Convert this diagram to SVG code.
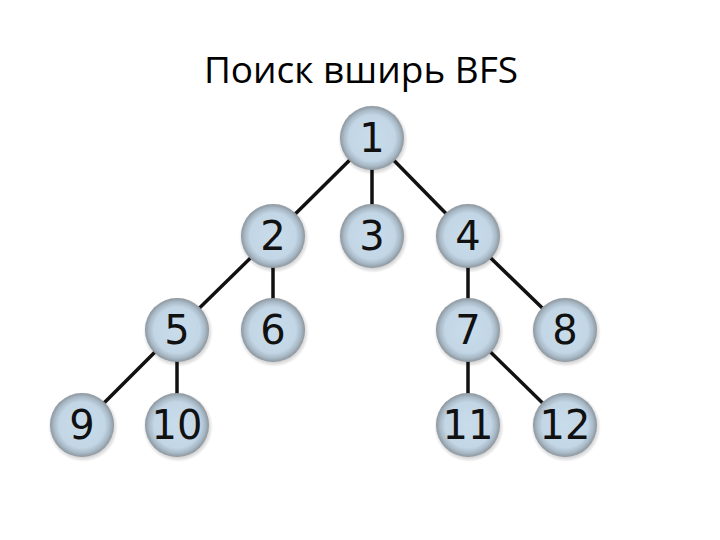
<svg xmlns="http://www.w3.org/2000/svg" width="720" height="540" viewBox="0 0 720 540">
<defs>
<radialGradient id="g" cx="50%" cy="50%" r="50%">
<stop offset="0" stop-color="#c9dcea"/>
<stop offset="0.72" stop-color="#c2d6e6"/>
<stop offset="0.88" stop-color="#a9b9c6"/>
<stop offset="1" stop-color="#8c969e"/>
</radialGradient>
<radialGradient id="sh" cx="50%" cy="50%" r="50%">
<stop offset="0.8" stop-color="#000" stop-opacity="0.25"/>
<stop offset="1" stop-color="#000" stop-opacity="0"/>
</radialGradient>
</defs>
<style>
.e{stroke:#111;stroke-width:3.5;fill:none}
.n circle.c{fill:url(#g)}
.n circle.s{fill:url(#sh)}
.n text{font-family:"DejaVu Sans",sans-serif;font-size:40px;fill:#111;text-anchor:middle}
.t{font-family:"Open Sans","Noto Sans",sans-serif;font-size:37px;fill:#000;text-anchor:middle}
</style>
<rect width="720" height="540" fill="#fff"/>
<text class="t" x="361" y="83">Поиск вширь BFS</text>
<g id="edges">
<line class="e" x1="372" y1="138" x2="273" y2="236"/>
<line class="e" x1="372" y1="138" x2="372" y2="236"/>
<line class="e" x1="372" y1="138" x2="468" y2="236"/>
<line class="e" x1="273" y1="236" x2="177" y2="330"/>
<line class="e" x1="273" y1="236" x2="273" y2="330"/>
<line class="e" x1="468" y1="236" x2="468" y2="330"/>
<line class="e" x1="468" y1="236" x2="565" y2="330"/>
<line class="e" x1="177" y1="330" x2="82" y2="425"/>
<line class="e" x1="177" y1="330" x2="177" y2="425"/>
<line class="e" x1="468" y1="330" x2="468" y2="425"/>
<line class="e" x1="468" y1="330" x2="565" y2="425"/>
</g>
<g id="n1" class="n"><circle class="s" cx="373" cy="140" r="35"/><circle class="c" cx="372" cy="138" r="32"/><text x="372" y="152">1</text></g>
<g id="n2" class="n"><circle class="s" cx="274" cy="238" r="35"/><circle class="c" cx="273" cy="236" r="32"/><text x="273" y="250">2</text></g>
<g id="n3" class="n"><circle class="s" cx="373" cy="238" r="35"/><circle class="c" cx="372" cy="236" r="32"/><text x="372" y="250">3</text></g>
<g id="n4" class="n"><circle class="s" cx="469" cy="238" r="35"/><circle class="c" cx="468" cy="236" r="32"/><text x="468" y="250">4</text></g>
<g id="n5" class="n"><circle class="s" cx="178" cy="332" r="35"/><circle class="c" cx="177" cy="330" r="32"/><text x="177" y="344">5</text></g>
<g id="n6" class="n"><circle class="s" cx="274" cy="332" r="35"/><circle class="c" cx="273" cy="330" r="32"/><text x="273" y="344">6</text></g>
<g id="n7" class="n"><circle class="s" cx="469" cy="332" r="35"/><circle class="c" cx="468" cy="330" r="32"/><text x="468" y="344">7</text></g>
<g id="n8" class="n"><circle class="s" cx="566" cy="332" r="35"/><circle class="c" cx="565" cy="330" r="32"/><text x="565" y="344">8</text></g>
<g id="n9" class="n"><circle class="s" cx="83" cy="427" r="35"/><circle class="c" cx="82" cy="425" r="32"/><text x="82" y="439">9</text></g>
<g id="n10" class="n"><circle class="s" cx="178" cy="427" r="35"/><circle class="c" cx="177" cy="425" r="32"/><text x="177" y="439">10</text></g>
<g id="n11" class="n"><circle class="s" cx="469" cy="427" r="35"/><circle class="c" cx="468" cy="425" r="32"/><text x="468" y="439">11</text></g>
<g id="n12" class="n"><circle class="s" cx="566" cy="427" r="35"/><circle class="c" cx="565" cy="425" r="32"/><text x="565" y="439">12</text></g>
</svg>
